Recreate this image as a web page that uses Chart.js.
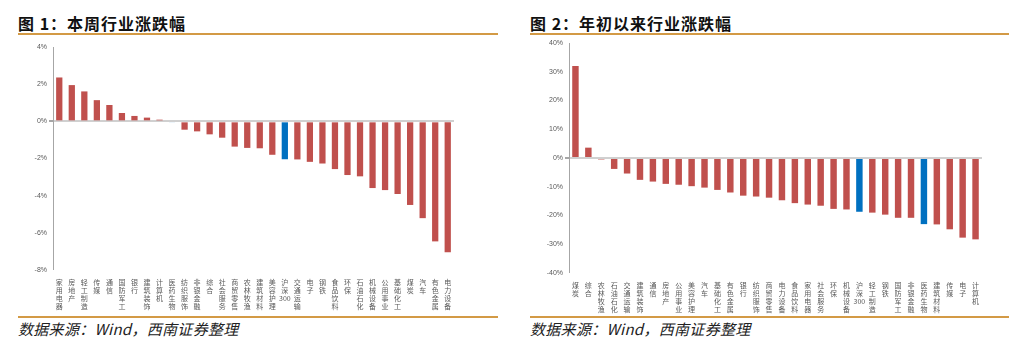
<!DOCTYPE html>
<html>
<head>
<meta charset="utf-8">
<script src="https://cdn.jsdelivr.net/npm/chart.js@4/dist/chart.umd.min.js"></script>
<style>
  body { margin: 0; width: 1013px; height: 349px; background: #fff; position: relative; overflow: hidden;
         font-family: "Noto Sans CJK SC", "Liberation Sans", sans-serif; }
  .title { position: absolute; top: 11px; font-size: 16px; font-weight: bold; color: #111; letter-spacing: 1px; }
  .rule { position: absolute; height: 2px; background: #d39a45; }
  .src { position: absolute; top: 318px; font-size: 15px; font-style: italic; color: #222; letter-spacing: 0.3px; }
  .box { position: absolute; }
</style>
</head>
<body>
<div class="title" style="left:18px">图 1：本周行业涨跌幅</div>
<div class="rule" style="left:18px; width:480px; top:33px"></div>
<div class="title" style="left:530px">图 2：年初以来行业涨跌幅</div>
<div class="rule" style="left:530px; width:479px; top:33px"></div>

<div class="box" style="left:18px; top:40px; width:440px; height:272px"><canvas id="weekChart"></canvas></div>
<div class="box" style="left:530px; top:36px; width:456px; height:280px"><canvas id="ytdChart"></canvas></div>

<div class="rule" style="left:18px; width:480px; top:316px"></div>
<div class="rule" style="left:530px; width:479px; top:316px"></div>
<div class="src" style="left:18px">数据来源：Wind，西南证券整理</div>
<div class="src" style="left:530px">数据来源：Wind，西南证券整理</div>

<script>
// 图1 本周行业涨跌幅 (%)
const weekCategories = ['家用电器', '房地产', '轻工制造', '传媒', '通信', '国防军工', '银行', '建筑装饰',
    '计算机', '医药生物', '纺织服饰', '非银金融', '综合', '社会服务', '商贸零售', '农林牧渔', '建筑材料',
    '美容护理', '沪深300', '交通运输', '电子', '钢铁', '食品饮料', '环保', '石油石化', '机械设备',
    '公用事业', '基础化工', '煤炭', '汽车', '有色金属', '电力设备'];
const weekValues = [2.36, 1.95, 1.61, 1.14, 0.88, 0.45, 0.29, 0.2, 0.09, -0.05, -0.45, -0.54, -0.7, -0.88,
    -1.36, -1.43, -1.45, -1.8, -2.04, -2.05, -2.18, -2.27, -2.57, -2.89, -2.96, -3.59, -3.7, -3.91, -4.5,
    -5.21, -6.46, -7.04];
const weekTicks = [4, 2, 0, -2, -4, -6, -8];

// 图2 年初以来行业涨跌幅 (%)
const ytdCategories = ['煤炭', '综合', '农林牧渔', '石油石化', '交通运输', '建筑装饰', '通信', '房地产',
    '公用事业', '美容护理', '汽车', '基础化工', '有色金属', '银行', '纺织服饰', '商贸零售', '电力设备',
    '食品饮料', '家用电器', '社会服务', '环保', '机械设备', '沪深300', '轻工制造', '钢铁', '国防军工',
    '非银金融', '医药生物', '建筑材料', '传媒', '电子', '计算机'];
const ytdValues = [32.0, 3.6, -0.5, -3.8, -5.4, -7.6, -8.2, -9.0, -9.3, -9.8, -10.3, -11.1, -12.0, -13.1,
    -13.4, -13.8, -14.7, -15.7, -16.2, -16.6, -17.7, -17.9, -18.7, -19.0, -19.7, -20.8, -20.8, -23.0,
    -23.1, -24.8, -27.7, -28.3];
const ytdTicks = [40, 30, 20, 10, 0, -10, -20, -30, -40];

const highlighted = ['沪深300', '医药生物'];
const RED = '#c0504d';
const BLUE = '#0070c0';

function vertical(label) {
    if (label === '沪深300') return ['沪', '深', '300'];
    return label.split('');
}

function makeChart(id, categories, values, ticks, yWidth, xHeight, padTop) {
    const ctx = document.getElementById(id).getContext('2d');
    return new Chart(ctx, {
        type: 'bar',
        data: {
            labels: categories.map(vertical),
            datasets: [{
                data: values,
                backgroundColor: categories.map(c => highlighted.includes(c) ? BLUE : RED),
                barPercentage: 0.5,
                categoryPercentage: 1
            }]
        },
        options: {
            responsive: true,
            maintainAspectRatio: false,
            animation: false,
            layout: { padding: { top: padTop, right: 4, left: 0, bottom: 0 } },
            plugins: { legend: { display: false }, tooltip: { enabled: false } },
            scales: {
                x: {
                    grid: { display: false },
                    border: { display: false },
                    ticks: {
                        autoSkip: false, maxRotation: 0, minRotation: 0, padding: 0,
                        color: '#595959',
                        font: { size: 7, family: '"Noto Sans CJK SC"', lineHeight: 1.15 }
                    },
                    afterFit: s => { s.height = xHeight; }
                },
                y: {
                    min: Math.min(...ticks),
                    max: Math.max(...ticks),
                    afterBuildTicks: s => { s.ticks = ticks.map(v => ({ value: v })); },
                    border: { display: true, color: '#a6a6a6', width: 1 },
                    grid: {
                        drawOnChartArea: true,
                        color: c => c.tick && c.tick.value === 0 ? '#d0d0d0' : 'rgba(0,0,0,0)',
                        lineWidth: c => c.tick && c.tick.value === 0 ? 2 : 0,
                        tickColor: '#a6a6a6',
                        tickLength: 4
                    },
                    ticks: {
                        padding: 2,
                        color: '#595959',
                        font: { size: 7, family: '"Liberation Sans"' },
                        callback: v => v + '%'
                    },
                    afterFit: s => { s.width = yWidth; }
                }
            }
        }
    });
}

makeChart('weekChart', weekCategories, weekValues, weekTicks, 35, 42, 7);
makeChart('ytdChart', ytdCategories, ytdValues, ytdTicks, 39, 43, 7);
</script>
</body>
</html>
